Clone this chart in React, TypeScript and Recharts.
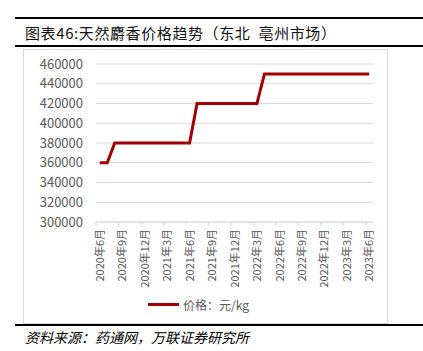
import { LineChart, Line, XAxis, YAxis, CartesianGrid, Legend } from "recharts";

const months = [
  "2020年6月", "2020年7月", "2020年8月", "2020年9月", "2020年10月", "2020年11月", "2020年12月",
  "2021年1月", "2021年2月", "2021年3月", "2021年4月", "2021年5月", "2021年6月", "2021年7月",
  "2021年8月", "2021年9月", "2021年10月", "2021年11月", "2021年12月", "2022年1月", "2022年2月",
  "2022年3月", "2022年4月", "2022年5月", "2022年6月", "2022年7月", "2022年8月", "2022年9月",
  "2022年10月", "2022年11月", "2022年12月", "2023年1月", "2023年2月", "2023年3月", "2023年4月",
  "2023年5月", "2023年6月",
];

const prices = [
  360000, 360000, 380000, 380000, 380000, 380000, 380000,
  380000, 380000, 380000, 380000, 380000, 380000, 420000,
  420000, 420000, 420000, 420000, 420000, 420000, 420000,
  420000, 450000, 450000, 450000, 450000, 450000, 450000,
  450000, 450000, 450000, 450000, 450000, 450000, 450000,
  450000, 450000,
];

// every third month gets a label
const xTicks = [0, 3, 6, 9, 12, 15, 18, 21, 24, 27, 30, 33, 36];
const yTicks = [300000, 320000, 340000, 360000, 380000, 400000, 420000, 440000, 460000];

const seriesName = "价格：元/kg";
const RED = "#A00000";

const data = months.map((m, i) => ({ x: i + 0.5, month: m, price: prices[i] }));

function MonthTick({ x, y, payload }: { x?: number; y?: number; payload?: { value: number } }) {
  const label = months[payload?.value ?? 0];
  return (
    <text
      transform={`translate(${(x ?? 0) + 4},${y ?? 0}) rotate(-90)`}
      textAnchor="end"
      dy="0.35em"
      fill="#595959"
      fontSize={11}
    >
      {label}
    </text>
  );
}

function LegendContent() {
  return (
    <div style={{ display: "flex", alignItems: "center", justifyContent: "center", fontSize: 12, color: "#595959", position: "relative", top: 4 }}>
      <span style={{ display: "inline-block", width: 31, height: 3, background: RED, marginRight: 4 }} />
      {seriesName}
    </div>
  );
}

export default function App() {
  const font = "'Noto Sans CJK SC', 'Noto Sans', sans-serif";
  return (
    <div style={{ position: "absolute", left: 0, top: 0, width: 423, height: 351, background: "#fff", fontFamily: font }}>
      <div style={{ position: "absolute", left: 15, right: 0, top: 17, height: 2, background: "#000" }} />
      <div
        style={{
          position: "absolute", left: 25, top: 22, fontSize: 15, color: "#111",
          fontFamily: "'Noto Sans CJK SC', serif", lineHeight: "22px", letterSpacing: 0.6, whiteSpace: "pre",
        }}
      >
        图表46:天然麝香价格趋势（东北{"\u2002"}亳州市场）
      </div>
      <div style={{ position: "absolute", left: 15, right: 0, top: 45, height: 2, background: "#000" }} />

      <div style={{ position: "absolute", left: 23, top: 49, width: 365, height: 275, border: "1px solid #d9d9d9", boxSizing: "border-box" }}>
        <LineChart width={363} height={273} data={data} margin={{ top: 14, right: 14, left: 0, bottom: 14 }}>
          <CartesianGrid horizontal vertical={false} stroke="#d9d9d9" />
          <XAxis
            dataKey="x"
            type="number"
            domain={[0, 37]}
            ticks={xTicks}
            interval={0}
            tick={<MonthTick />}
            height={70}
            tickSize={4}
            tickMargin={3}
            stroke="#d9d9d9"
          />
          <YAxis
            type="number"
            domain={[300000, 460000]}
            ticks={yTicks}
            interval={0}
            width={72}
            axisLine={false}
            tickLine={false}
            tickSize={0}
            tickMargin={13}
            tick={{ fill: "#595959", fontSize: 13 }}
          />
          <Legend verticalAlign="bottom" content={<LegendContent />} />
          <Line
            type="linear"
            dataKey="price"
            name={seriesName}
            stroke={RED}
            strokeWidth={3}
            dot={false}
            isAnimationActive={false}
          />
        </LineChart>
      </div>

      <div style={{ position: "absolute", left: 15, right: 0, top: 324, height: 2, background: "#000" }} />
      <div style={{ position: "absolute", left: 25, top: 327, fontSize: 14, fontStyle: "italic", color: "#000", lineHeight: "20px" }}>
        资料来源：药通网，万联证券研究所
      </div>
    </div>
  );
}
